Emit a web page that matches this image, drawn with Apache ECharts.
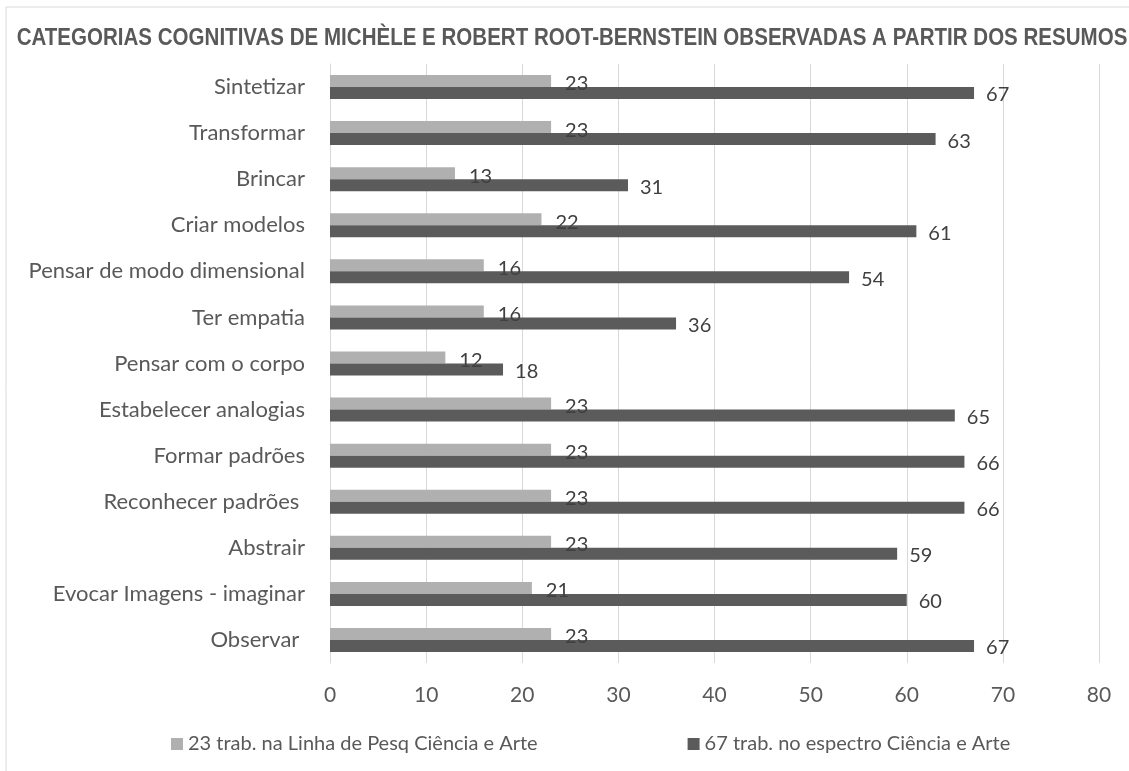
<!DOCTYPE html>
<html>
<head>
<meta charset="utf-8">
<script src="https://cdn.jsdelivr.net/npm/echarts@6/dist/echarts.min.js"></script>
<style>
html,body{margin:0;padding:0;background:#fff;}
#chart{width:1129px;height:771px;}
</style>
</head>
<body>
<div id="chart"></div>
<script>
const title = 'CATEGORIAS COGNITIVAS DE MICHÈLE E ROBERT ROOT-BERNSTEIN OBSERVADAS A PARTIR DOS RESUMOS';
const categories = ['Sintetizar','Transformar','Brincar','Criar modelos','Pensar de modo dimensional','Ter empatia','Pensar com o corpo','Estabelecer analogias','Formar padrões','Reconhecer padrões ','Abstrair','Evocar Imagens - imaginar','Observar '];
const seriesNames = ['23 trab. na Linha de Pesq Ciência e Arte','67 trab. no espectro Ciência e Arte'];
const linhaPesq = [23,23,13,22,16,16,12,23,23,23,23,21,23];
const espectro = [67,63,31,61,54,36,18,65,66,66,59,60,67];
const xTicks = {min:0, max:80, interval:10};

const chart = echarts.init(document.getElementById('chart'));
const font = 'Lato, "Noto Sans", sans-serif';
chart.setOption({
  animation:false,
  backgroundColor:'#fff',
  graphic:[
    {type:'rect', z:-1, shape:{x:6,y:7,width:1300,height:1000}, style:{fill:'none', stroke:'#d9d9d9', lineWidth:1}},
    {type:'text', x:572, y:39, scaleX:0.893, originX:0, originY:0,
      style:{text:title, fill:'#595959', font:'bold 23px "Liberation Sans", Arial, sans-serif', textAlign:'center', textVerticalAlign:'middle'}}
  ],
  legend:{top:729, left:166, itemWidth:12, itemHeight:12, itemGap:150, icon:'rect',
    textStyle:{fontFamily:font, fontSize:20, color:'#595959'}},
  grid:{left:330, right:30, top:64, bottom:108},
  xAxis:{type:'value', min:xTicks.min, max:xTicks.max, interval:xTicks.interval,
    axisLine:{show:false}, axisTick:{show:false},
    splitLine:{lineStyle:{color:'#d9d9d9', width:1}},
    axisLabel:{fontFamily:font, fontSize:21, color:'#595959', margin:22}},
  yAxis:{type:'category', data:categories, inverse:true,
    axisLine:{show:true, lineStyle:{color:'#d9d9d9'}}, axisTick:{show:false},
    axisLabel:{fontFamily:font, fontSize:22, color:'#595959', margin:25}},
  series:[
    {name:seriesNames[0], type:'bar', data:linhaPesq, barWidth:12, barGap:'0%', itemStyle:{color:'#b0b0b0'},
      label:{show:true, position:'right', distance:14, offset:[0,3], fontFamily:font, fontSize:20, color:'#404040'}},
    {name:seriesNames[1], type:'bar', data:espectro, barWidth:12, itemStyle:{color:'#5b5b5b'},
      label:{show:true, position:'right', distance:12, offset:[0,2], fontFamily:font, fontSize:20, color:'#404040'}}
  ]
});
</script>
</body>
</html>
